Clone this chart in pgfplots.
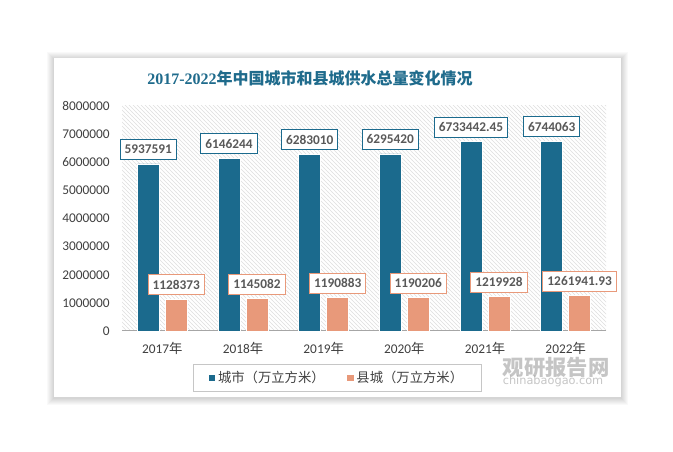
\documentclass[border=0pt]{standalone}
\usepackage{fontspec}
\setmainfont{Carlito}
\newfontfamily\cjk{Noto Sans CJK SC}
\newfontfamily\serif{Liberation Serif}
\newfontfamily\wm{DejaVu Sans}
\usepackage{pgfplots}
\pgfplotsset{compat=1.18}
\usetikzlibrary{patterns}
\definecolor{cityblue}{HTML}{1B6A8D}
\definecolor{countyorange}{HTML}{E8997A}
\definecolor{titleblue}{HTML}{1F6B8C}
\definecolor{labelgray}{HTML}{595959}
\definecolor{tickgray}{HTML}{404040}

\begin{document}
\begin{tikzpicture}
% page and card
\begin{scope}[x=0.75pt,y=0.75pt]
\fill[white] (0,0) rectangle (673,452);
\foreach \d in {7,6,5,4,3,2,1} {
  \fill[black,opacity=0.025] (54-\d,55-\d-1) rectangle (621+\d,394+\d-1);
}
\fill[white] (54,55) rectangle (621,394);
\node[text=titleblue, font=\fontsize{12}{14}\selectfont] at (310,374)
  {{\serif\bfseries 2017-2022}{\cjk\bfseries 年中国城市和县城供水总量变化情况}};
\end{scope}

\begin{axis}[
    at={(91.5pt,90.75pt)}, anchor=south west,
    scale only axis, width=363pt, height=168.75pt,
    clip=false,
    xmin=-0.5, xmax=5.5,
    ymin=0, ymax=8000000,
    ybar=4.5pt, bar width=16.5pt,
    axis x line*=bottom, axis y line*=left,
    y axis line style={draw=none},
    x axis line style={draw=gray!70, line width=0.75pt, -},
    major tick length=0pt,
    xtick={0,...,5},
    xticklabels={2017{\cjk 年},2018{\cjk 年},2019{\cjk 年},2020{\cjk 年},2021{\cjk 年},2022{\cjk 年}},
    ytick={0,1000000,...,8000000},
    scaled y ticks=false,
    yticklabel style={/pgf/number format/fixed, /pgf/number format/1000 sep={},
        /pgf/number format/assume math mode=true,
        font=\fontsize{10}{12}\selectfont, text=tickgray, inner sep=0pt, xshift=-9pt},
    xticklabel style={font=\fontsize{10}{12}\selectfont, text=tickgray, inner sep=0pt, yshift=-8pt},
    axis background/.style={pattern=north west lines, pattern color=gray!25},
    point meta=explicit symbolic,
    nodes near coords,
    nodes near coords style={font=\fontsize{10}{12}\selectfont\bfseries, text=labelgray,
        fill=white, line width=0.75pt, inner xsep=3.5pt, inner ysep=0pt,
        minimum height=15pt, anchor=south, yshift=3pt},
    legend style={at={(0.445,-0.209)}, anchor=center, legend columns=2,
        draw=gray!45, line width=0.5pt, inner xsep=12pt, inner ysep=3pt,
        font=\cjk\fontsize{10}{12}\selectfont, text=tickgray,
        /tikz/every even column/.append style={column sep=15pt}},
    legend image code/.code={\fill[#1,draw=none] (0pt,-2.4pt) rectangle (4.8pt,2.4pt);},
]
\addplot[fill=cityblue, draw=white, line width=0.6pt,
    every node near coord/.append style={draw=cityblue}]
    coordinates {(0,5937591)[5937591] (1,6146244)[6146244] (2,6283010)[6283010]
                 (3,6295420)[6295420] (4,6733442.45)[6733442.45] (5,6744063)[6744063]};
\addplot[fill=countyorange, draw=white, line width=0.6pt,
    every node near coord/.append style={draw=countyorange}]
    coordinates {(0,1128373)[1128373] (1,1145082)[1145082] (2,1190883)[1190883]
                 (3,1190206)[1190206] (4,1219928)[1219928] (5,1261941.93)[1261941.93]};
\legend{城市（万立方米）,县城（万立方米）}
\end{axis}

% watermark
\begin{scope}[x=0.75pt,y=0.75pt]
\node[text=gray, opacity=0.45, font=\cjk\bfseries\fontsize{16}{18}\selectfont] at (556,85) {观研报告网};
\node[text=gray, opacity=0.45, font=\wm\fontsize{8.5}{10}\selectfont] at (553,71) {chinabaogao.com};
\end{scope}
\end{tikzpicture}
\end{document}
